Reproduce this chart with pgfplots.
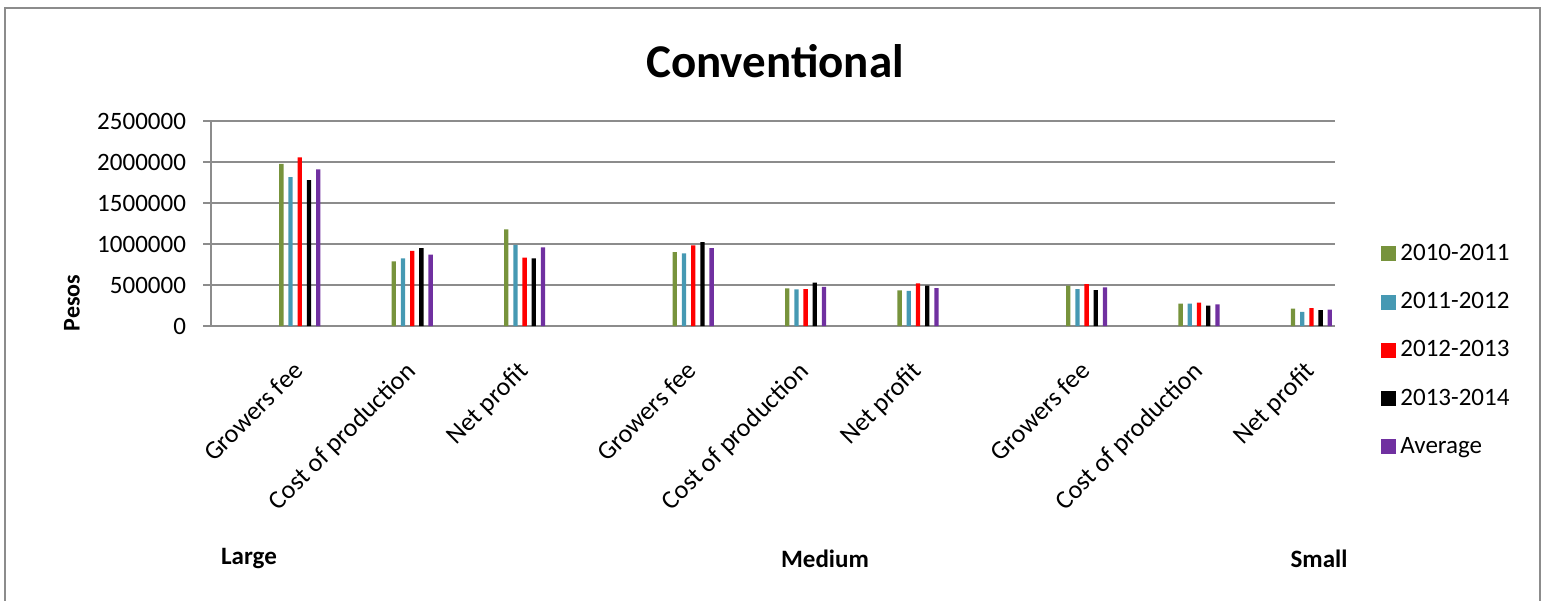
\documentclass[border=0pt]{standalone}
\usepackage{pgfplots}
\pgfplotsset{compat=1.18}
\usepackage{pgfplotstable}
\usepackage{fontspec}
\setmainfont{Carlito}
\definecolor{c1}{HTML}{77933C}
\definecolor{c2}{HTML}{4699B3}
\definecolor{c3}{HTML}{FF0000}
\definecolor{c4}{HTML}{000000}
\definecolor{c5}{HTML}{7030A0}
\definecolor{gridc}{HTML}{8C8C8C}
\pgfplotstableread{
x     s1       s2       s3       s4       s5
0     1976000  1817000  2057000  1780000  1911000
1     789000   826000   915000   951000   870000
2     1179000  988000   833000   826000   960000
3.5   902000   886000   984000   1024000  951000
4.5   459000   447000   451000   528000   476000
5.5   435000   427000   520000   492000   463000
7     492000   451000   512000   439000   472000
8     272000   272000   285000   248000   264000
9     211000   171000   219000   195000   199000
}\datatable
\begin{document}
\begin{tikzpicture}
\useasboundingbox (0pt,0pt) rectangle (772.5pt,-300pt);
\draw[gridc, line width=1pt] (2.5pt,-4pt) rectangle (770pt,-302pt);
\node[anchor=base, font=\fontsize{23.5}{28}\selectfont\bfseries] at (387.5pt,-38.5pt) {Conventional};
\node[rotate=90, font=\fontsize{12}{14}\selectfont\bfseries] at (36pt,-151.5pt) {Pesos};
\node[font=\fontsize{12.5}{14}\selectfont\bfseries] at (124.5pt,-279.5pt) {Large};
\node[font=\fontsize{12.5}{14}\selectfont\bfseries] at (412.5pt,-279.5pt) {Medium};
\node[font=\fontsize{12.5}{14}\selectfont\bfseries] at (659.5pt,-279.5pt) {Small};
\begin{axis}[
  at={(105.5pt,-163pt)}, anchor=south west,
  width=562pt, height=102.5pt, scale only axis,
  ybar=2.45pt, bar width=2.15pt,
  xmin=-0.79, xmax=9.21, ymin=0, ymax=2500000,
  axis x line*=bottom, axis y line*=left,
  axis line style={-, gridc, line width=1pt},
  ymajorgrids, grid style={gridc, line width=1pt},
  scaled y ticks=false,
  ytick={0,500000,1000000,1500000,2000000,2500000},
  yticklabels={0,500000,1000000,1500000,2000000,2500000},
  tick align=outside,
  ytick style={gridc, line width=1pt},
  major tick length=4pt,
  yticklabel style={font=\fontsize{12.5}{14}\selectfont, xshift=-5pt},
  xtick={0,1,2,3.5,4.5,5.5,7,8,9},
  xticklabels={Growers fee,Cost of production,Net profit,Growers fee,Cost of production,Net profit,Growers fee,Cost of production,Net profit},
  xtick style={draw=none},
  xticklabel style={font=\fontsize{13}{15}\selectfont, xshift=-4pt, yshift=-8pt, rotate=45, anchor=north east},
  legend style={at={(1.0356,0.44)}, anchor=north west, draw=none, fill=none,
    font=\fontsize{12.5}{14}\selectfont, row sep=10.5pt,
    /tikz/every even column/.append style={column sep=2pt}},
  legend cell align=left,
  legend image code/.code={\fill[#1] (0pt,-3.75pt) rectangle (7.5pt,3.75pt);},
]
\addplot[fill=c1, draw=none] table[x=x, y=s1] {\datatable};
\addplot[fill=c2, draw=none] table[x=x, y=s2] {\datatable};
\addplot[fill=c3, draw=none] table[x=x, y=s3] {\datatable};
\addplot[fill=c4, draw=none] table[x=x, y=s4] {\datatable};
\addplot[fill=c5, draw=none] table[x=x, y=s5] {\datatable};
\legend{2010-2011,2011-2012,2012-2013,2013-2014,Average}
\end{axis}
\end{tikzpicture}
\end{document}
